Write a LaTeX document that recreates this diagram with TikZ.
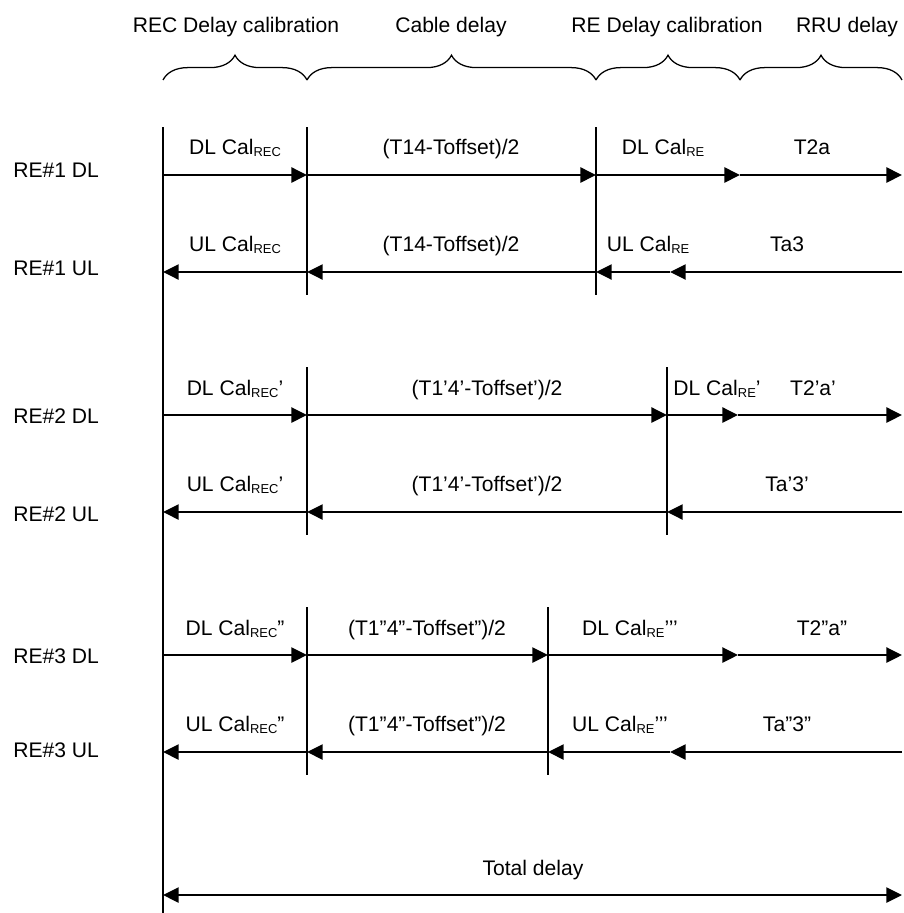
\documentclass[tikz,border=0pt]{standalone}
\usepackage{fontspec}
\setmainfont{Liberation Sans}
\usetikzlibrary{arrows.meta,decorations.pathreplacing}
\newcommand{\lo}[1]{\raisebox{-1.7pt}{\fontsize{9.2}{10}\selectfont #1}}

\begin{document}
\begin{tikzpicture}[x=0.025cm, y=-0.025cm, every node/.style={font=\fontsize{15}{17}\selectfont, inner sep=0pt, anchor=base}, >={Triangle[length=3.9mm,width=3.8mm]}, sig/.style={->, line width=1.1pt}, bar/.style={line width=1.1pt}, grp/.style={decorate, decoration={brace, amplitude=0.62cm}, line width=0.9pt}]
	\useasboundingbox (0,0) rectangle (903,913);
	% delay groups
	\node (hREC) at (236,33) {REC Delay calibration};
	\node (hCab) at (451,33) {Cable delay};
	\node (hRE) at (667,33) {RE Delay calibration};
	\node (hRRU) at (847,33) {RRU delay};
	\foreach \n/\x in {0/163,1/307,2/596,3/740,4/902} {\coordinate (b\n) at (\x,80);}
	\foreach \a/\b in {0/1,1/2,2/3,3/4} {\draw[grp] (b\a) -- (b\b);}
	% time axis and dividers
	\coordinate (top) at (163,127);
	\coordinate (bot) at (163,913);
	\draw[bar] (top) -- (bot);
	\foreach \n/\x/\ya/\yb in {1/307/127/295, 2/596/127/295, 3/307/367/535, 4/667/367/535, 5/307/607/775, 6/548/607/775} {
		\coordinate (v\n a) at (\x,\ya);
		\coordinate (v\n b) at (\x,\yb);
		\draw[bar] (v\n a) -- (v\n b);
	}
	% RE#1
	\node[anchor=base west] (r1d) at (13,177) {RE\#1 DL};
	\node[anchor=base west] (r1u) at (13,275) {RE\#1 UL};
	\foreach \n/\x in {0/163,1/307,2/596,3/740,4/902} {\coordinate (dA\n) at (\x,175);}
	\foreach \n/\x in {0/163,1/307,2/596,3/670,4/902} {\coordinate (uA\n) at (\x,272);}
	\foreach \a/\b in {0/1,1/2,2/3,3/4} {\draw[sig] (dA\a) -- (dA\b); \draw[sig] (uA\b) -- (uA\a);}
	\node (lA1) at (235,154) {DL Cal\lo{REC}};
	\node (lA2) at (451,154) {(T14-Toffset)/2};
	\node (lA3) at (663,154) {DL Cal\lo{RE}};
	\node (lA4) at (812,154) {T2a};
	\node (mA1) at (235,251) {UL Cal\lo{REC}};
	\node (mA2) at (451,251) {(T14-Toffset)/2};
	\node (mA3) at (648,251) {UL Cal\lo{RE}};
	\node (mA4) at (787,251) {Ta3};
	% RE#2
	\node[anchor=base west] (r2d) at (13,423) {RE\#2 DL};
	\node[anchor=base west] (r2u) at (13,521) {RE\#2 UL};
	\foreach \n/\x in {0/163,1/307,2/667,3/738,4/902} {\coordinate (dB\n) at (\x,415);}
	\foreach \n/\x in {0/163,1/307,2/667,3/902} {\coordinate (uB\n) at (\x,512);}
	\foreach \a/\b in {0/1,1/2,2/3,3/4} {\draw[sig] (dB\a) -- (dB\b);}
	\foreach \a/\b in {0/1,1/2,2/3} {\draw[sig] (uB\b) -- (uB\a);}
	\node (lB1) at (235,395) {DL Cal\lo{REC}’};
	\node (lB2) at (487,395) {(T1’4’-Toffset’)/2};
	\node (lB3) at (717,395) {DL Cal\lo{RE}’};
	\node (lB4) at (813,395) {T2’a’};
	\node (mB1) at (235,491) {UL Cal\lo{REC}’};
	\node (mB2) at (487,491) {(T1’4’-Toffset’)/2};
	\node (mB3) at (787,491) {Ta’3’};
	% RE#3
	\node[anchor=base west] (r3d) at (13,663) {RE\#3 DL};
	\node[anchor=base west] (r3u) at (13,757) {RE\#3 UL};
	\foreach \n/\x in {0/163,1/307,2/548,3/738,4/902} {\coordinate (dC\n) at (\x,655);}
	\foreach \n/\x in {0/163,1/307,2/548,3/670,4/902} {\coordinate (uC\n) at (\x,752);}
	\foreach \a/\b in {0/1,1/2,2/3,3/4} {\draw[sig] (dC\a) -- (dC\b); \draw[sig] (uC\b) -- (uC\a);}
	\node (lC1) at (235,635) {DL Cal\lo{REC}”};
	\node (lC2) at (427,635) {(T1”4”-Toffset”)/2};
	\node (lC3) at (630,635) {DL Cal\lo{RE}’’’};
	\node (lC4) at (822,635) {T2”a”};
	\node (mC1) at (235,731) {UL Cal\lo{REC}”};
	\node (mC2) at (427,731) {(T1”4”-Toffset”)/2};
	\node (mC3) at (620,731) {UL Cal\lo{RE}’’’};
	\node (mC4) at (787,731) {Ta”3”};
	% total
	\coordinate (t0) at (163,895);
	\coordinate (t1) at (902,895);
	\draw[<->, line width=1.1pt] (t0) -- (t1);
	\node (tot) at (533,875) {Total delay};
\end{tikzpicture}
\end{document}
